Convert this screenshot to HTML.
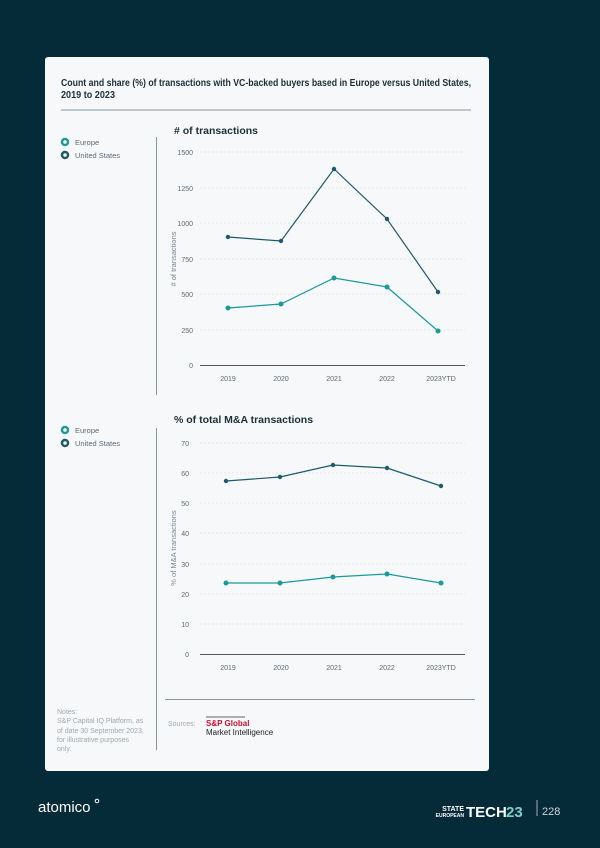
<!DOCTYPE html>
<html><head><meta charset="utf-8"><style>
body{margin:0;width:600px;height:848px;background:#052a38;font-family:"Liberation Sans",sans-serif;overflow:hidden;position:relative}
.card{position:absolute;left:45px;top:57px;width:444px;height:714px;background:#f6f8fa;border-radius:3px}
</style></head><body>
<div class="card"></div>
<svg width="600" height="848" style="position:absolute;left:0;top:0" font-family="Liberation Sans, sans-serif">
<text x="61" y="86" font-size="10.5" font-weight="bold" fill="#1c2f3a" textLength="410" lengthAdjust="spacingAndGlyphs">Count and share (%) of transactions with VC-backed buyers based in Europe versus United States,</text>
<text x="61" y="98" font-size="10.5" font-weight="bold" fill="#1c2f3a" textLength="54" lengthAdjust="spacingAndGlyphs">2019 to 2023</text>
<line x1="61" y1="110" x2="471" y2="110" stroke="#8a959c" stroke-width="1"/>
<line x1="156.5" y1="137" x2="156.5" y2="395" stroke="#8a959c"/>
<line x1="156.5" y1="428" x2="156.5" y2="750" stroke="#8a959c"/>
<line x1="165" y1="699.5" x2="475" y2="699.5" stroke="#8a959c"/>
<g font-size="7.5" fill="#5b6b74">
<circle cx="65" cy="142" r="3" fill="#fff" stroke="#1a9a9a" stroke-width="2.5"/><text x="75" y="145">Europe</text>
<circle cx="65" cy="155" r="3" fill="#fff" stroke="#1d5a6b" stroke-width="2.5"/><text x="75" y="158">United States</text>
<circle cx="65" cy="430" r="3" fill="#fff" stroke="#1a9a9a" stroke-width="2.5"/><text x="75" y="433">Europe</text>
<circle cx="65" cy="443" r="3" fill="#fff" stroke="#1d5a6b" stroke-width="2.5"/><text x="75" y="446">United States</text>
</g>
<text x="174" y="134" font-size="10.5" font-weight="bold" fill="#1c2f3a"># of transactions</text>
<g stroke="#e3e7ea" stroke-dasharray="2,2">
<line x1="200" y1="152" x2="465" y2="152"/><line x1="200" y1="188" x2="465" y2="188"/><line x1="200" y1="223" x2="465" y2="223"/><line x1="200" y1="259" x2="465" y2="259"/><line x1="200" y1="294" x2="465" y2="294"/><line x1="200" y1="330" x2="465" y2="330"/>
</g>
<line x1="200" y1="365.5" x2="465" y2="365.5" stroke="#555"/>
<g font-size="7" fill="#5b6b74" text-anchor="end">
<text x="193" y="155">1500</text><text x="193" y="191">1250</text><text x="193" y="226">1000</text><text x="193" y="262">750</text><text x="193" y="297">500</text><text x="193" y="333">250</text><text x="193" y="368">0</text>
</g>
<text transform="translate(176,259) rotate(-90)" font-size="7.5" fill="#7a878e" text-anchor="middle"># of transactions</text>
<g font-size="7" fill="#5b6b74" text-anchor="middle">
<text x="228" y="381">2019</text><text x="281" y="381">2020</text><text x="334" y="381">2021</text><text x="387" y="381">2022</text><text x="441" y="381">2023YTD</text>
</g>
<polyline points="228,237 281,241 334,169 387,219 438,292" fill="none" stroke="#1d5a6b" stroke-width="1.2"/>
<g fill="#1d5a6b"><circle cx="228" cy="237" r="2.2"/><circle cx="281" cy="241" r="2.2"/><circle cx="334" cy="169" r="2.2"/><circle cx="387" cy="219" r="2.2"/><circle cx="438" cy="292" r="2.2"/></g>
<polyline points="228,308 281,304 334,278 387,287 438,331" fill="none" stroke="#1a9a9a" stroke-width="1.2"/>
<g fill="#1a9a9a"><circle cx="228" cy="308" r="2.5"/><circle cx="281" cy="304" r="2.5"/><circle cx="334" cy="278" r="2.5"/><circle cx="387" cy="287" r="2.5"/><circle cx="438" cy="331" r="2.5"/></g>
<text x="174" y="423" font-size="10.5" font-weight="bold" fill="#1c2f3a">% of total M&amp;A transactions</text>
<g stroke="#e3e7ea" stroke-dasharray="2,2">
<line x1="200" y1="443" x2="465" y2="443"/><line x1="200" y1="473" x2="465" y2="473"/><line x1="200" y1="503" x2="465" y2="503"/><line x1="200" y1="533" x2="465" y2="533"/><line x1="200" y1="564" x2="465" y2="564"/><line x1="200" y1="594" x2="465" y2="594"/><line x1="200" y1="624" x2="465" y2="624"/>
</g>
<line x1="200" y1="654.5" x2="465" y2="654.5" stroke="#555"/>
<g font-size="7" fill="#5b6b74" text-anchor="end">
<text x="189" y="446">70</text><text x="189" y="476">60</text><text x="189" y="506">50</text><text x="189" y="536">40</text><text x="189" y="567">30</text><text x="189" y="597">20</text><text x="189" y="627">10</text><text x="189" y="657">0</text>
</g>
<text transform="translate(176,548) rotate(-90)" font-size="7.5" fill="#7a878e" text-anchor="middle">% of M&amp;A transactions</text>
<g font-size="7" fill="#5b6b74" text-anchor="middle">
<text x="228" y="670">2019</text><text x="281" y="670">2020</text><text x="334" y="670">2021</text><text x="387" y="670">2022</text><text x="441" y="670">2023YTD</text>
</g>
<polyline points="226,481 280,477 333,465 387,468 441,486" fill="none" stroke="#1d5a6b" stroke-width="1.2"/>
<g fill="#1d5a6b"><circle cx="226" cy="481" r="2.2"/><circle cx="280" cy="477" r="2.2"/><circle cx="333" cy="465" r="2.2"/><circle cx="387" cy="468" r="2.2"/><circle cx="441" cy="486" r="2.2"/></g>
<polyline points="226,583 280,583 333,577 387,574 441,583" fill="none" stroke="#1a9a9a" stroke-width="1.2"/>
<g fill="#1a9a9a"><circle cx="226" cy="583" r="2.5"/><circle cx="280" cy="583" r="2.5"/><circle cx="333" cy="577" r="2.5"/><circle cx="387" cy="574" r="2.5"/><circle cx="441" cy="583" r="2.5"/></g>
<g font-size="7" fill="#a0a8ae">
<text x="57" y="714">Notes:</text><text x="57" y="723">S&amp;P Capital IQ Platform, as</text><text x="57" y="733">of date 30 September 2023,</text><text x="57" y="742">for illustrative purposes</text><text x="57" y="751">only.</text>
<text x="168" y="726">Sources:</text>
</g>
<line x1="206" y1="717" x2="245" y2="717" stroke="#333" stroke-width="0.8"/>
<text x="206" y="726" font-size="8" font-weight="bold" fill="#c8102e">S&amp;P Global</text>
<text x="206" y="735" font-size="8" fill="#222">Market Intelligence</text>
<text x="38" y="812" font-size="15" fill="#fff">atomico</text><circle cx="97" cy="801" r="1.8" fill="none" stroke="#fff"/>
<text x="464" y="811" font-size="7" font-weight="bold" fill="#fff" text-anchor="end">STATE</text>
<text x="464" y="817" font-size="5" font-weight="bold" fill="#fff" text-anchor="end">EUROPEAN</text>
<text x="466" y="817" font-size="15" font-weight="bold" fill="#fff">TECH</text>
<text x="506" y="817" font-size="15" font-weight="bold" fill="#7fcfcf">23</text>
<line x1="537" y1="800" x2="537" y2="816" stroke="#aab" stroke-width="1"/>
<text x="542" y="815" font-size="11" fill="#cfd6da">228</text>
</svg>
</body></html>
